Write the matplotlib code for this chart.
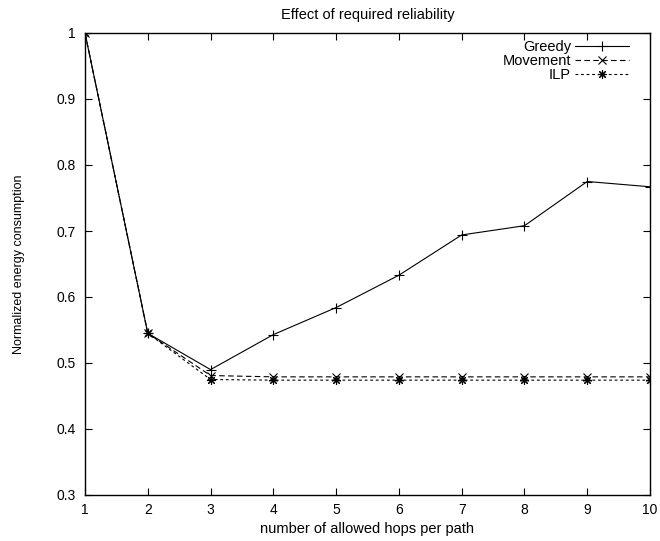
import matplotlib
matplotlib.use("Agg")
import matplotlib.pyplot as plt
from matplotlib.ticker import FixedLocator

plt.rcParams['font.family'] = ['Liberation Sans', 'DejaVu Sans']

hops = [1, 2, 3, 4, 5, 6, 7, 8, 9, 10]
greedy = [1.0, 0.545, 0.490, 0.543, 0.584, 0.633, 0.694, 0.708, 0.775, 0.767]
movement = [1.0, 0.545, 0.481, 0.479, 0.479, 0.479, 0.479, 0.479, 0.479, 0.479]
ilp = [1.0, 0.545, 0.475, 0.474, 0.474, 0.474, 0.474, 0.474, 0.474, 0.474]

xticks = [1, 2, 3, 4, 5, 6, 7, 8, 9, 10]
yticks = [0.3, 0.4, 0.5, 0.6, 0.7, 0.8, 0.9, 1.0]
ytick_labels = ["0.3", "0.4", "0.5", "0.6", "0.7", "0.8", "0.9", "1"]

fig = plt.figure(figsize=(6.6, 5.41), dpi=100)
ax = fig.add_axes([85/660, 1-495/541, (650-85)/660, (495-33)/541])

lw = 0.8
ax.plot(hops, greedy, color='black', lw=lw, ls='-', marker='+', ms=6.5, mew=0.8, label='Greedy')
ax.plot(hops, movement, color='black', lw=lw, ls=(0, (5, 3)), marker='x', ms=5.5, mew=0.8, label='Movement')
ax.plot(hops, ilp, color='black', lw=lw, ls=(0, (2.5, 2.5)), marker=(8, 2, 0), ms=6.5, mew=0.8, label='ILP')

ax.set_xlim(1, 10)
ax.set_ylim(0.3, 1.0)
ax.xaxis.set_major_locator(FixedLocator(xticks))
ax.set_yticks(yticks)
ax.set_yticklabels(ytick_labels)
ax.tick_params(direction='in', top=True, right=True, length=5, width=0.8, labelsize=10)
ax.tick_params(axis='y', pad=7)
ax.tick_params(axis='x', pad=6)
for s in ax.spines.values():
    s.set_linewidth(1.0)

ax.set_title("Effect of required reliability", fontsize=10.5, pad=10)
ax.set_xlabel("number of allowed hops per path", fontsize=10.5, labelpad=3)
ax.set_ylabel("Normalized energy consumption", fontsize=9, labelpad=22)

leg = ax.legend(loc='upper right', bbox_to_anchor=(0.970, 0.995), frameon=False, markerfirst=False,
                fontsize=10.5, handlelength=3.7, handletextpad=0.25, labelspacing=0.0,
                borderaxespad=0.0, borderpad=0.3)

fig.savefig("out.png", dpi=100)
